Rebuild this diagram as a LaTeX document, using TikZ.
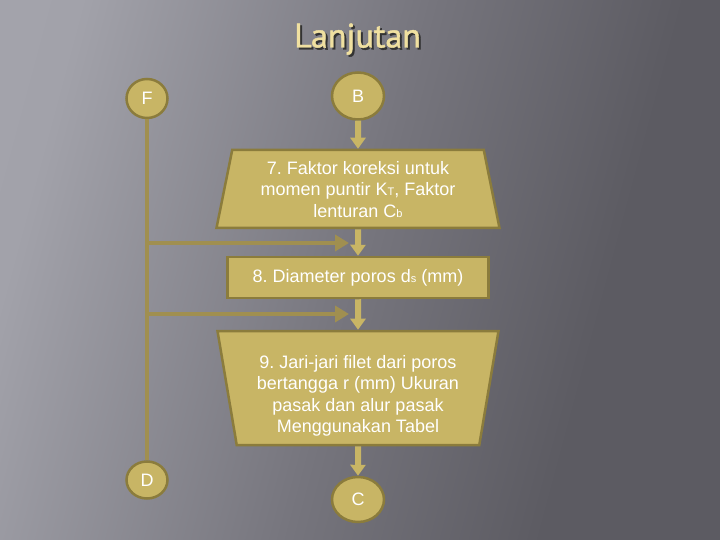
\documentclass[tikz,border=0pt]{standalone}
\usepackage{fontspec}
\setmainfont{Liberation Sans}
\newfontfamily\titlefont[FakeBold=1.2]{PT Sans}
\usetikzlibrary{shapes.geometric,arrows.meta}
\definecolor{goldfill}{RGB}{200,181,101}
\definecolor{goldline}{RGB}{139,124,60}
\definecolor{linkcol}{RGB}{160,143,80}
\definecolor{titlecol}{RGB}{240,224,160}
\definecolor{bgA}{RGB}{168,168,176}
\definecolor{bgB}{RGB}{162,162,170}
\definecolor{bgC}{RGB}{118,117,125}
\definecolor{bgD}{RGB}{92,91,98}
\pgfdeclarehorizontalshading{bgshade}{100bp}{color(0bp)=(bgA); color(25bp)=(bgB); color(50bp)=(bgC); color(68bp)=(bgD); color(100bp)=(bgD)}
\newcommand\smallsub[1]{{\fontsize{11}{11}\selectfont #1}}
\frenchspacing
\begin{document}
\begin{tikzpicture}[x=1pt,y=-1pt,
  box/.style={draw=goldline, line width=2.5pt, fill=goldfill, text=white,
    font=\fontsize{18}{21.5}\selectfont, inner sep=0pt},
  circ/.style={ellipse, draw=goldline, line width=2.5pt, fill=goldfill, text=white,
    font=\fontsize{18}{18}\selectfont, inner sep=0pt},
  varr/.style={draw=goldfill, line width=6pt, -{Triangle[width=15pt,length=11pt]}},
  harr/.style={draw=linkcol, line width=4.5pt, -{Triangle[width=16pt,length=14pt]}},
  fline/.style={draw=linkcol, line width=4pt}]
\useasboundingbox (0,0) rectangle (720,540);
\shade[shading=bgshade, shading angle=-15] (0,0) rectangle (720,540);

\node[font=\titlefont\fontsize{34}{34}\selectfont, text=titlecol, anchor=base] (title) at (357.5,47.5)
  {\rlap{\kern2pt\raisebox{-2pt}{\color{black!80}Lanjutan}}Lanjutan};

\node[circ, minimum width=41pt, minimum height=39pt] (F) at (147,98.5) {F};
\node[circ, minimum width=52pt, minimum height=47pt] (B) at (358,96) {B};
\node[box, trapezium, trapezium stretches body, trapezium left angle=76.3, trapezium right angle=76.3,
  minimum width=283pt, minimum height=78pt] (s7) at (358,189)
  {\raisebox{-2.5pt}[\height][\depth]{\begin{tabular}{@{}c@{}}7. Faktor koreksi untuk\\momen puntir K\smallsub{T}, Faktor\\lenturan C\smallsub{b}\end{tabular}}};
\node[box, rectangle, minimum width=261pt, minimum height=41pt] (s8) at (358,277.5)
  {8. Diameter poros d\smallsub{s} (mm)};
\node[box, trapezium, shape border rotate=180, trapezium stretches body,
  trapezium left angle=77.4, trapezium right angle=77.4,
  minimum width=281pt, minimum height=114pt] (s9) at (358,388)
  {\raisebox{-8pt}[\height][\depth]{\begin{tabular}{@{}c@{}}9. Jari-jari filet dari poros\\bertangga r (mm) Ukuran\\pasak dan alur pasak\\Menggunakan Tabel\end{tabular}}};
\node[circ, minimum width=41pt, minimum height=37pt] (D) at (147,480) {D};
\node[circ, minimum width=52pt, minimum height=45pt] (C) at (358,499.5) {C};

\coordinate (j1) at (147,243);
\coordinate (t1) at (349,243);
\coordinate (j2) at (147,314);
\coordinate (t2) at (349,314);

\draw[fline] (F.south) -- (D.north);
\draw[harr] (j1) -- (t1);
\draw[harr] (j2) -- (t2);
\draw[varr] (B.south) -- (s7.north);
\draw[varr] (s7.south) -- (s8.north);
\draw[varr] (s8.south) -- (s9.north);
\draw[varr] (s9.south) -- (C.north);
\end{tikzpicture}
\end{document}
